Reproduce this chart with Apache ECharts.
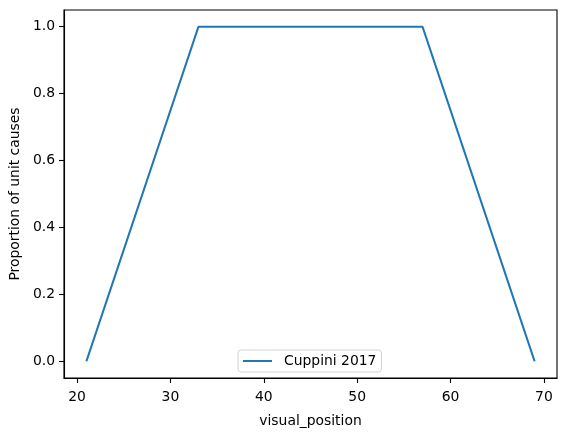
<!DOCTYPE html>
<html>
<head>
<meta charset="utf-8">
<script src="https://cdn.jsdelivr.net/npm/echarts@6/dist/echarts.min.js"></script>
<style>html,body{margin:0;padding:0;background:#fff}#c{width:567px;height:433px}</style>
</head>
<body>
<div id="c"></div>
<script>
var seriesName = 'Cuppini 2017';
var xValues = [21, 33, 57, 69];
var yValues = [0, 1, 1, 0];
var xTicks = [20, 30, 40, 50, 60, 70];
var yTicks = [0, 0.2, 0.4, 0.6, 0.8, 1.0];

var font = 'DejaVu Sans';
var fs = 13.9;
var chart = echarts.init(document.getElementById('c'));
var data = xValues.map(function (x, i) { return [x, yValues[i]]; });
chart.setOption({
  animation: false,
  backgroundColor: '#fff',
  grid: { left: 61, right: 10, top: 10, bottom: 53, show: true, borderColor: '#000', borderWidth: 1.1, backgroundColor: 'transparent' },
  xAxis: {
    type: 'value', min: 18.6, max: 71.4,
    name: 'visual_position', nameLocation: 'middle', nameGap: 36,
    nameTextStyle: { fontFamily: font, fontSize: fs, color: '#000' },
    axisLine: { show: true, onZero: false, lineStyle: { color: '#000', width: 1.1 } },
    axisTick: { show: true, length: 5, lineStyle: { color: '#000', width: 1.1 }, customValues: xTicks },
    axisLabel: { customValues: xTicks, margin: 12, fontFamily: font, fontSize: fs, color: '#000' },
    splitLine: { show: false }
  },
  yAxis: {
    type: 'value', min: -0.05, max: 1.05,
    name: 'Proportion of unit causes', nameLocation: 'middle', nameGap: 40,
    nameTextStyle: { fontFamily: font, fontSize: fs, color: '#000' },
    axisLine: { show: true, onZero: false, lineStyle: { color: '#000', width: 1.1 } },
    axisTick: { show: true, length: 5, lineStyle: { color: '#000', width: 1.1 }, customValues: yTicks },
    axisLabel: { customValues: yTicks, margin: 9, fontFamily: font, fontSize: fs, color: '#000',
      formatter: function (v) { return v.toFixed(1); } },
    splitLine: { show: false }
  },
  legend: {
    left: 238, top: 350,
    padding: [4, 5, 4, 4],
    itemWidth: 29, itemHeight: 14,
    itemStyle: { opacity: 0 },
    borderColor: '#d4d4d4', borderWidth: 1, borderRadius: 3,
    textStyle: { fontFamily: font, fontSize: fs, color: '#000', padding: [0, 0, 0, 7] },
    data: [seriesName]
  },
  series: [{
    name: seriesName, type: 'line', data: data, symbol: 'none',
    lineStyle: { color: '#1f77b4', width: 2.1 }, itemStyle: { color: '#1f77b4' }
  }]
});
</script>
</body>
</html>
